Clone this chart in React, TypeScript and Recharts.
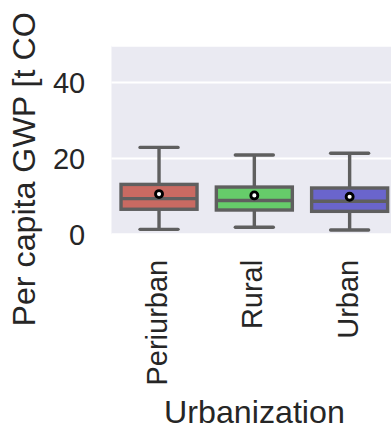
import React from "react";
import {
  Bar,
  CartesianGrid,
  ComposedChart,
  Label,
  XAxis,
  YAxis
} from "recharts";

// box statistics (t CO2eq per capita)
const CATEGORIES = ["Periurban", "Rural", "Urban"];
const WHISKER_LOW = [1.3, 1.85, 1.15];
const Q1 = [6.6, 6.4, 6.05];
const MEDIAN = [9.4, 8.9, 8.7];
const Q3 = [13.15, 12.45, 12.2];
const WHISKER_HIGH = [22.9, 20.9, 21.35];
const MEAN = [10.6, 10.25, 9.9];
const FILLS = ["#c96a62", "#66cc6a", "#6a65cc"];
const Y_TICKS = [0, 20, 40];

const data = CATEGORIES.map((category, i) => ({
  category,
  whiskerLow: WHISKER_LOW[i],
  q1: Q1[i],
  median: MEDIAN[i],
  q3: Q3[i],
  whiskerHigh: WHISKER_HIGH[i],
  mean: MEAN[i],
  fill: FILLS[i]
}));

const FONT = "'Liberation Sans', Arial, sans-serif";
const TEXT = "#262626";
const LINE = "#5f5f5f";
const LW = 3.4;

const BoxShape = (props: any) => {
  const { x, y, width, height, payload } = props;
  const lo = payload.whiskerLow;
  const hi = payload.whiskerHigh;
  const top = Math.min(y, y + height);
  const h = Math.abs(height);
  const py = (v: number) => top + ((hi - v) / (hi - lo)) * h;
  const cx = x + width / 2;
  const capHalf = width / 4;
  return (
    <g>
      <line x1={cx} x2={cx} y1={py(payload.q3)} y2={py(hi)} stroke={LINE} strokeWidth={LW} />
      <line x1={cx} x2={cx} y1={py(payload.q1)} y2={py(lo)} stroke={LINE} strokeWidth={LW} />
      <line x1={cx - capHalf} x2={cx + capHalf} y1={py(hi)} y2={py(hi)} stroke={LINE} strokeWidth={LW} strokeLinecap="round" />
      <line x1={cx - capHalf} x2={cx + capHalf} y1={py(lo)} y2={py(lo)} stroke={LINE} strokeWidth={LW} strokeLinecap="round" />
      <rect
        x={x}
        y={py(payload.q3)}
        width={width}
        height={py(payload.q1) - py(payload.q3)}
        fill={payload.fill}
        stroke={LINE}
        strokeWidth={LW}
      />
      <line x1={x} x2={x + width} y1={py(payload.median)} y2={py(payload.median)} stroke={LINE} strokeWidth={LW} />
      <circle cx={cx} cy={py(payload.mean)} r={3.5} fill="#ffffff" stroke="#000000" strokeWidth={2.9} />
    </g>
  );
};

const XTick = (props: any) => {
  const { x, y, payload } = props;
  return (
    <text
      transform={`translate(${x + 8}, ${y + 25.5}) rotate(-90)`}
      textAnchor="end"
      fontSize={29}
      fontFamily={FONT}
      fill={TEXT}
    >
      {payload.value}
    </text>
  );
};

export default function App() {
  return (
    <div
      style={{
        position: "fixed",
        left: 0,
        top: 0,
        width: 391,
        height: 426,
        overflow: "hidden",
        background: "#ffffff"
      }}
    >
      <ComposedChart
        width={400}
        height={426}
        data={data}
        margin={{ top: 45.7, right: 2.6, bottom: 0, left: 0 }}
        barCategoryGap="10%"
      >
        <CartesianGrid fill="#eaeaf2" stroke="#ffffff" strokeWidth={2} vertical={false} />
        <XAxis
          dataKey="category"
          axisLine={false}
          tickLine={false}
          tickSize={0}
          tickMargin={0}
          height={191.7}
          interval={0}
          tick={<XTick />}
        >
          <Label
            content={(p: any) => {
              const vb = p.viewBox || { x: 111.5, width: 286 };
              return (
                <text
                  x={vb.x + vb.width / 2}
                  y={423}
                  textAnchor="middle"
                  fontSize={32.2}
                  fontFamily={FONT}
                  fill={TEXT}
                >
                  Urbanization
                </text>
              );
            }}
          />
        </XAxis>
        <YAxis
          type="number"
          domain={[0, 49.7]}
          allowDataOverflow
          ticks={Y_TICKS}
          width={111.5}
          axisLine={false}
          tickLine={false}
          tickSize={0}
          tickMargin={26.3}
          tick={{ fontSize: 29, fontFamily: FONT, fill: TEXT }}
        >
          <Label
            content={() => (
              <text
                transform="translate(34.5, 326.5) rotate(-90)"
                textAnchor="start"
                fontSize={32.2}
                fontFamily={FONT}
                fill={TEXT}
              >
                Per capita GWP [t CO
                <tspan fontSize={22} dx={12} dy={6}>2</tspan>
                <tspan dy={-6}>eq]</tspan>
              </text>
            )}
          />
        </YAxis>
        <Bar
          dataKey={(d: any) => [d.whiskerLow, d.whiskerHigh]}
          shape={<BoxShape />}
          isAnimationActive={false}
        />
      </ComposedChart>
    </div>
  );
}
